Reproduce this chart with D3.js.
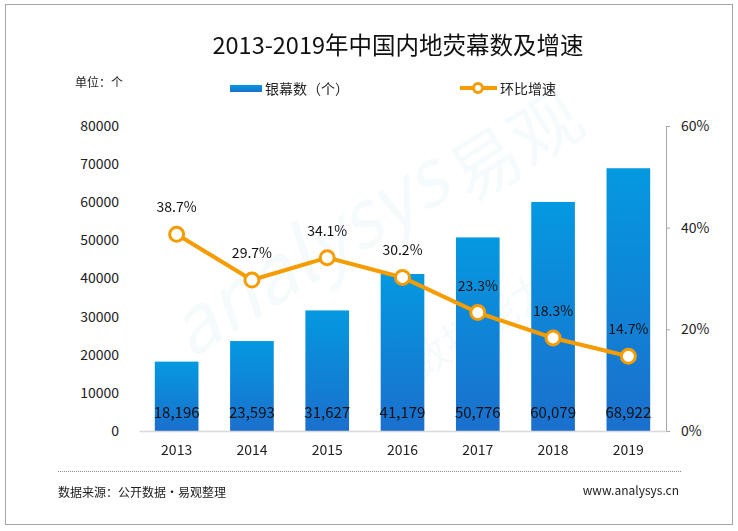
<!DOCTYPE html>
<html>
<head>
<meta charset="utf-8">
<script src="https://cdn.jsdelivr.net/npm/d3@7"></script>
<style>
  body { margin: 0; background: #fff; }
  svg text { font-family: "Noto Sans CJK SC", "Noto Sans", sans-serif; }
</style>
</head>
<body>
<div id="chart"></div>
<script>
const years = ["2013", "2014", "2015", "2016", "2017", "2018", "2019"];
const screens = [18196, 23593, 31627, 41179, 50776, 60079, 68922];
const growth = [38.7, 29.7, 34.1, 30.2, 23.3, 18.3, 14.7];
const leftTicks = [0, 10000, 20000, 30000, 40000, 50000, 60000, 70000, 80000];
const rightTicks = [0, 20, 40, 60];

const W = 738, H = 531;
const svg = d3.select("#chart").append("svg")
    .attr("width", W)
    .attr("height", H);

const defs = svg.append("defs");
const grad = defs.append("linearGradient")
    .attr("id", "barGrad")
    .attr("x1", 0).attr("y1", 0).attr("x2", 0).attr("y2", 1);
grad.append("stop").attr("offset", "0%").attr("stop-color", "#0499e0");
grad.append("stop").attr("offset", "100%").attr("stop-color", "#1b6fcd");

// frame
svg.append("rect")
    .attr("x", 5.5).attr("y", 4.5)
    .attr("width", 727).attr("height", 520)
    .attr("fill", "#fff")
    .attr("stroke", "#a6a6a6")
    .attr("stroke-width", 1);

// faint watermark
const wm = svg.append("g").attr("opacity", 0.05).attr("fill", "#2a8fd8");
wm.append("text")
    .attr("transform", "translate(190,360) rotate(-32)")
    .attr("font-size", 78)
    .attr("font-style", "italic")
    .text("analysys");
wm.append("text")
    .attr("transform", "translate(470,205) rotate(-32)")
    .attr("font-size", 70)
    .text("易观");
wm.append("text")
    .attr("transform", "translate(420,380) rotate(-32)")
    .attr("font-size", 40)
    .text("数据能力");

// title
svg.append("text")
    .attr("x", 398).attr("y", 54)
    .attr("text-anchor", "middle")
    .attr("font-size", 23.5)
    .attr("fill", "#111")
    .text("2013-2019年中国内地荧幕数及增速");

svg.append("text")
    .attr("x", 75).attr("y", 87)
    .attr("font-size", 12)
    .attr("fill", "#222")
    .text("单位：个");

// legend
const legend = svg.append("g");
legend.append("rect")
    .attr("x", 230).attr("y", 85)
    .attr("width", 32).attr("height", 7)
    .attr("fill", "url(#barGrad)");
legend.append("text")
    .attr("x", 265).attr("y", 94)
    .attr("font-size", 14)
    .attr("fill", "#222")
    .text("银幕数（个）");
legend.append("line")
    .attr("x1", 460).attr("x2", 497)
    .attr("y1", 88).attr("y2", 88)
    .attr("stroke", "#f59c00")
    .attr("stroke-width", 4);
legend.append("circle")
    .attr("cx", 478).attr("cy", 88).attr("r", 4.5)
    .attr("fill", "#fff")
    .attr("stroke", "#f59c00")
    .attr("stroke-width", 3);
legend.append("text")
    .attr("x", 500).attr("y", 94)
    .attr("font-size", 14)
    .attr("fill", "#222")
    .text("环比增速");

// scales
const x = d3.scaleBand()
    .domain(years)
    .range([139, 666])
    .paddingInner(0.42)
    .paddingOuter(0.21);
const yL = d3.scaleLinear().domain([0, 80000]).range([431, 126]);
const yR = d3.scaleLinear().domain([0, 60]).range([431, 126]);

// left axis (labels only)
const leftAxis = svg.append("g")
    .attr("transform", "translate(119,0)")
    .call(d3.axisLeft(yL).tickValues(leftTicks).tickSize(0).tickPadding(0).tickFormat(d3.format("d")));
leftAxis.select(".domain").remove();
leftAxis.selectAll("text")
    .attr("font-size", 14)
    .attr("fill", "#222");

// right axis
const rightAxis = svg.append("g")
    .attr("transform", "translate(666,0)")
    .call(d3.axisRight(yR).tickValues(rightTicks).tickSize(4).tickPadding(11).tickFormat(d => d + "%"));
rightAxis.select(".domain").attr("stroke", "#a6a6a6");
rightAxis.selectAll(".tick line").attr("stroke", "#a6a6a6");
rightAxis.selectAll("text")
    .attr("font-size", 14)
    .attr("fill", "#222");

// bars
svg.append("g").selectAll("rect")
    .data(screens)
    .enter()
    .append("rect")
    .attr("x", (d, i) => x(years[i]))
    .attr("y", d => yL(d))
    .attr("width", x.bandwidth())
    .attr("height", d => yL(0) - yL(d))
    .attr("fill", "url(#barGrad)");

// bottom axis
const bottomAxis = svg.append("g")
    .attr("transform", "translate(0,431)")
    .call(d3.axisBottom(x).tickSize(0).tickPadding(14));
bottomAxis.select(".domain")
    .attr("stroke", "#d9d9d9")
    .attr("stroke-width", 1.5);
bottomAxis.selectAll("text")
    .attr("font-size", 14)
    .attr("fill", "#222");

// bar value labels
svg.append("g").selectAll("text")
    .data(screens)
    .enter()
    .append("text")
    .attr("x", (d, i) => x(years[i]) + x.bandwidth() / 2)
    .attr("y", 418)
    .attr("text-anchor", "middle")
    .attr("font-size", 15)
    .attr("fill", "#111")
    .text(d => d3.format(",")(d));

// growth line
const cx = (d, i) => x(years[i]) + x.bandwidth() / 2;
const line = d3.line()
    .x((d, i) => cx(d, i))
    .y(d => yR(d));
svg.append("path")
    .datum(growth)
    .attr("d", line)
    .attr("fill", "none")
    .attr("stroke", "#f59c00")
    .attr("stroke-width", 4);

svg.append("g").selectAll("circle")
    .data(growth)
    .enter()
    .append("circle")
    .attr("cx", cx)
    .attr("cy", d => yR(d))
    .attr("r", 7)
    .attr("fill", "#fff")
    .attr("stroke", "#f59c00")
    .attr("stroke-width", 3);

svg.append("g").selectAll("text")
    .data(growth)
    .enter()
    .append("text")
    .attr("x", cx)
    .attr("y", d => yR(d) - 22)
    .attr("text-anchor", "middle")
    .attr("font-size", 14)
    .attr("fill", "#111")
    .text(d => d.toFixed(1) + "%");

// footer
svg.append("line")
    .attr("x1", 58).attr("x2", 681)
    .attr("y1", 471.5).attr("y2", 471.5)
    .attr("stroke", "#8c8c8c")
    .attr("stroke-width", 1)
    .attr("stroke-dasharray", "1,1");

svg.append("text")
    .attr("x", 58).attr("y", 497)
    .attr("font-size", 12)
    .attr("fill", "#222")
    .text("数据来源：公开数据·易观整理");

svg.append("text")
    .attr("x", 679).attr("y", 495)
    .attr("text-anchor", "end")
    .attr("font-size", 12)
    .attr("fill", "#222")
    .text("www.analysys.cn");
</script>
</body>
</html>
